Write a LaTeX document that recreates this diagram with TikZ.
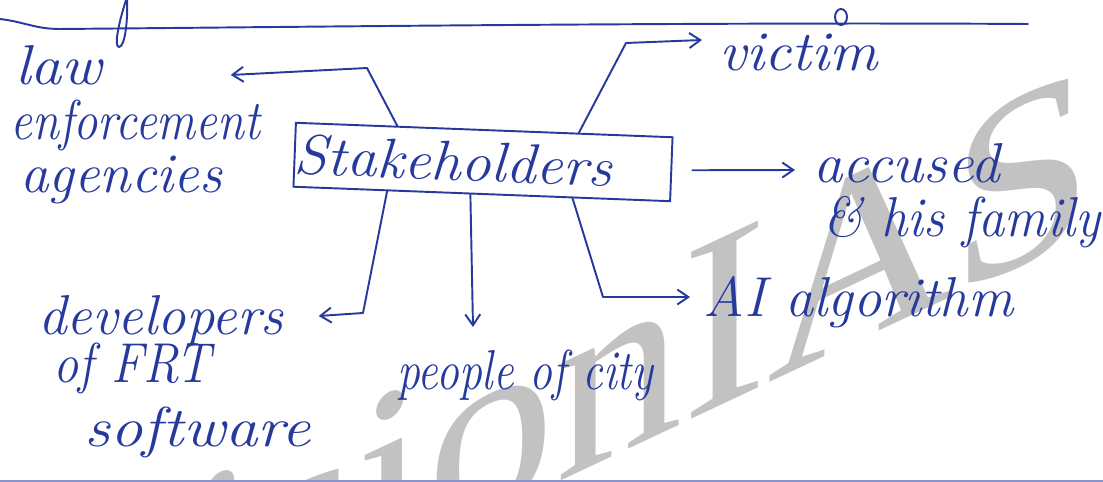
\documentclass[tikz,border=0pt]{standalone}
\usepackage{fontspec}
\usepackage{graphicx}
\usetikzlibrary{arrows.meta,calc}
\newfontfamily\wmfont{Liberation Serif}
\definecolor{ink}{RGB}{38,58,158}
\definecolor{wmgray}{RGB}{194,194,194}
\newcommand\hw[2]{\resizebox{#1}{\height}{#2}}
\tikzset{
  lbl/.style={anchor=base west, inner sep=0pt, text=ink, font=\fontsize{32}{36}\selectfont\itshape},
  conn/.style={draw=ink, line width=1.1pt, line cap=round, line join=round, -{Straight Barb[length=2.2mm,width=3mm]}},
  inkline/.style={draw=ink, line width=1.1pt, line cap=round},
  stakebox/.style={draw=ink, line width=1.1pt, text=ink, rotate=-2.2, text width=7.54cm, minimum height=1.28cm, inner xsep=0pt, inner ysep=0pt, align=left, font=\fontsize{32}{36}\selectfont\itshape},
  wmark/.style={transform shape, anchor=base west, inner sep=0pt, text=wmgray, font=\wmfont\fontsize{145}{150}\selectfont}
}
\begin{document}
\begin{tikzpicture}[x=0.02cm, y=-0.02cm]
\useasboundingbox (0,0) rectangle (1103,482);
% watermark
\begin{scope}
  \clip (0,0) rectangle (1103,482);
  \begin{scope}[shift={(18,736)}, yslant=0.47]
    \node[wmark] (wm) at (0,0) {VisionIAS};
  \end{scope}
\end{scope}
% ruled line and stray strokes
\draw[inkline] (0,19) .. controls (25,22) and (35,29) .. (60,29) .. controls (300,27) and (700,22) .. (1028,24);
\draw[inkline] (126,0) .. controls (118,25) and (114,47) .. (119,47) .. controls (125,47) and (128,20) .. (127,0);
\draw[inkline] (841,17) circle[x radius=0.12cm, y radius=0.16cm];
\draw[draw=ink!55, line width=1.5pt] (0,481) -- (1103,481);
% central box
\node[stakebox] (box) at (483,162) {\hw{6.36cm}{Stakeholders}};
% labels
\node[lbl] (law) at (15,85) {\hw{1.74cm}{law}};
\node[lbl] (lawb) at (10,140) {\hw{5.0cm}{enforcement}};
\node[lbl] (lawc) at (20,193) {\hw{4.04cm}{agencies}};
\node[lbl] (victim) at (719,71) {\hw{3.16cm}{victim}};
\node[lbl] (accused) at (813,183) {\hw{3.74cm}{accused}};
\node[lbl] (family) at (823,237) {\hw{5.54cm}{\& his family}};
\node[lbl] (ai) at (703,317) {\hw{6.2cm}{AI algorithm}};
\node[lbl] (people) at (397,390) {\hw{5.12cm}{people of city}};
\node[lbl] (dev) at (38,335) {\hw{4.9cm}{developers}};
\node[lbl] (devb) at (53,383) {\hw{3.14cm}{of FRT}};
\node[lbl] (devc) at (84,447) {\hw{4.52cm}{software}};
% bends
\coordinate (lawbend) at (367,68);
\coordinate (vicbend) at (626,43);
\coordinate (aibend) at (603,297);
\coordinate (devbend) at (363,313);
% connectors
\draw[conn] ($(box.north west)!0.27!(box.north east)$) -- (lawbend) -- ([shift={(128,-10)}]law.base east);
\draw[conn] ($(box.north west)!0.75!(box.north east)$) -- (vicbend) -- ([shift={(-17,-31)}]victim.base west);
\draw[conn] ([shift={(20,1)}]box.east) -- ([shift={(-18,-13)}]accused.base west);
\draw[conn] ($(box.south west)!0.74!(box.south east)$) -- (aibend) -- ([shift={(-13,-20)}]ai.base west);
\draw[conn] ($(box.south west)!0.47!(box.south east)$) -- ([shift={(76,-63)}]people.base west);
\draw[conn] ($(box.south west)!0.25!(box.south east)$) -- (devbend) -- ([shift={(35,-19)}]dev.base east);
\end{tikzpicture}
\end{document}
